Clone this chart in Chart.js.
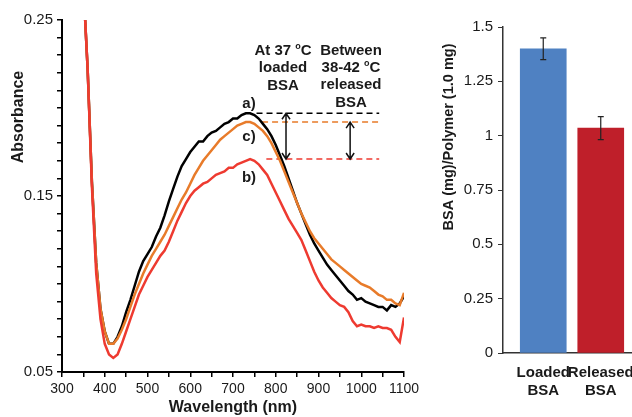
<!DOCTYPE html>
<html>
<head>
<meta charset="utf-8">
<script src="https://cdn.jsdelivr.net/npm/chart.js@4.4.1/dist/chart.umd.min.js"></script>
<style>
  html, body { margin: 0; padding: 0; background: #fff; }
  body { width: 632px; height: 417px; overflow: hidden; position: relative; }
  #leftBox { position: absolute; left: 0; top: 0; width: 430px; height: 417px; }
  #rightBox { position: absolute; left: 420px; top: 0; width: 290px; height: 417px; }
</style>
</head>
<body>
<div id="leftBox"><canvas id="spectra"></canvas></div>
<div id="rightBox"><canvas id="bars"></canvas></div>
<script>
// ---------- Data: UV-Vis spectra ----------
const wavelengths = [350,360,370,380,390,400,410,420,430,440,450,460,470,480,490,500,510,520,530,540,
  550,560,570,580,590,600,610,620,630,640,650,660,670,680,690,700,710,720,730,740,
  750,760,770,780,790,800,810,820,830,840,850,860,870,880,890,900,910,920,930,940,
  950,960,970,980,990,1000,1010,1020,1030,1040,1050,1060,1070,1080,1090,1100];

// a) loaded at 37 °C (black)
const seriesA = [0.270,0.222,0.158,0.112,0.086,0.073,0.066,0.066,0.070,0.076,0.084,0.091,0.099,0.107,0.113,0.117,0.121,0.127,0.132,0.139,
  0.147,0.154,0.161,0.167,0.171,0.175,0.178,0.181,0.181,0.184,0.186,0.187,0.189,0.191,0.192,0.194,0.194,0.196,0.197,0.197,
  0.196,0.194,0.191,0.188,0.184,0.179,0.173,0.167,0.160,0.153,0.146,0.140,0.134,0.128,0.123,0.119,0.115,0.111,0.108,0.105,
  0.102,0.099,0.096,0.094,0.091,0.092,0.090,0.089,0.088,0.087,0.087,0.085,0.088,0.087,0.089,0.093];
// c) (orange)
const seriesC = [0.270,0.222,0.158,0.112,0.086,0.073,0.066,0.066,0.069,0.074,0.080,0.087,0.094,0.100,0.106,0.111,0.116,0.120,0.124,0.128,
  0.133,0.138,0.143,0.148,0.152,0.157,0.162,0.166,0.170,0.173,0.176,0.179,0.182,0.184,0.186,0.188,0.190,0.191,0.192,0.192,
  0.191,0.189,0.187,0.184,0.180,0.175,0.170,0.164,0.158,0.152,0.146,0.140,0.135,0.130,0.126,0.123,0.120,0.117,0.114,0.112,
  0.110,0.108,0.106,0.104,0.102,0.100,0.099,0.098,0.096,0.094,0.093,0.091,0.091,0.089,0.088,0.095];
// b) (red)
const seriesB = [0.270,0.222,0.155,0.106,0.080,0.066,0.060,0.058,0.060,0.066,0.073,0.080,0.087,0.094,0.099,0.104,0.108,0.112,0.116,0.119,
  0.124,0.130,0.136,0.141,0.146,0.150,0.153,0.155,0.157,0.158,0.160,0.162,0.163,0.164,0.166,0.166,0.168,0.169,0.170,0.171,
  0.170,0.168,0.165,0.162,0.157,0.152,0.147,0.142,0.137,0.133,0.129,0.125,0.119,0.113,0.107,0.102,0.098,0.095,0.092,0.090,
  0.088,0.087,0.084,0.079,0.076,0.077,0.076,0.076,0.075,0.076,0.075,0.075,0.074,0.070,0.067,0.081];

const xTicks = [300,350,400,450,500,550,600,650,700,750,800,850,900,950,1000,1050,1100];
const xTickLabels = [300,400,500,600,700,800,900,1000,1100];
const yTicks = [0.05,0.06,0.07,0.08,0.09,0.10,0.11,0.12,0.13,0.14,0.15,0.16,0.17,0.18,0.19,0.20,0.21,0.22,0.23,0.24,0.25];
const yTickLabels = ['0.05','0.15','0.25'];

// visible absorption band (nm) used to find each peak
const bandStart = 500;
// dashed reference span (wavelengths) and arrow positions (wavelengths)
const dashStart = [755, 768, 778];
const dashEnd = 1042;
const arrowLoadedAt = 824;
const arrowReleasedAt = 974;

// ---------- Data: bar chart ----------
const barCategories = [['Loaded', 'BSA'], ['Released', 'BSA']];
const barValues = [1.40, 1.035];
const barErrors = [0.05, 0.053];
const barTicks = [0, 0.25, 0.5, 0.75, 1, 1.25, 1.5];
const barTickLabels = ['0', '0.25', '0.5', '0.75', '1', '1.25', '1.5'];

// ---------- Styling ----------
const FONT = 'Arial, "Liberation Sans", Helvetica, sans-serif';
Chart.defaults.font.family = FONT;
Chart.defaults.color = '#1a1a1a';
Chart.defaults.animation = false;

const colA = '#000000', colC = '#E87B2A', colB = '#EE3A30';
const peak = arr => Math.max(...arr.filter((v, i) => wavelengths[i] >= bandStart));
const levelA = peak(seriesA), levelC = peak(seriesC), levelB = peak(seriesB);

const pts = arr => wavelengths.map((w, i) => ({ x: w, y: arr[i] }));
const dashLine = (start, level) => [{ x: start, y: level }, { x: dashEnd, y: level }];

function drawSegs(ctx, segs, cx, cy) {
  const big = 'bold 15px ' + FONT, small = 'bold 9px ' + FONT;
  let total = 0;
  segs.forEach(s => { ctx.font = s[1] ? small : big; total += ctx.measureText(s[0]).width; });
  let x = cx - total / 2;
  ctx.textAlign = 'left';
  ctx.textBaseline = 'middle';
  segs.forEach(s => {
    ctx.font = s[1] ? small : big;
    ctx.fillText(s[0], x, s[1] ? cy - 4 : cy);
    x += ctx.measureText(s[0]).width;
  });
}

function dblArrow(ctx, x, y1, y2) {
  const h = 6, w = 4;
  ctx.save();
  ctx.strokeStyle = '#111';
  ctx.lineWidth = 1.5;
  ctx.beginPath();
  ctx.moveTo(x, y1); ctx.lineTo(x, y2);
  ctx.moveTo(x - w, y1 + h); ctx.lineTo(x, y1); ctx.lineTo(x + w, y1 + h);
  ctx.moveTo(x - w, y2 - h); ctx.lineTo(x, y2); ctx.lineTo(x + w, y2 - h);
  ctx.stroke();
  ctx.restore();
}

const spectraDecor = {
  id: 'spectraDecor',
  afterDatasetsDraw(chart) {
    const ctx = chart.ctx, xs = chart.scales.x, ys = chart.scales.y;
    dblArrow(ctx, xs.getPixelForValue(arrowLoadedAt), ys.getPixelForValue(levelA), ys.getPixelForValue(levelB));
    dblArrow(ctx, xs.getPixelForValue(arrowReleasedAt), ys.getPixelForValue(levelC), ys.getPixelForValue(levelB));
  },
  afterDraw(chart) {
    const ctx = chart.ctx;
    ctx.save();
    ctx.fillStyle = '#1a1a1a';
    drawSegs(ctx, [['At 37 ', 0], ['o', 1], ['C', 0]], 283, 51);
    drawSegs(ctx, [['loaded', 0]], 283, 68);
    drawSegs(ctx, [['BSA', 0]], 283, 86);
    drawSegs(ctx, [['Between', 0]], 351, 51);
    drawSegs(ctx, [['38-42 ', 0], ['o', 1], ['C', 0]], 351, 68);
    drawSegs(ctx, [['released', 0]], 351, 85);
    drawSegs(ctx, [['BSA', 0]], 351, 103);
    drawSegs(ctx, [['a)', 0]], 249, 104);
    drawSegs(ctx, [['c)', 0]], 249, 137);
    drawSegs(ctx, [['b)', 0]], 249, 178);
    ctx.translate(19, 117);
    ctx.rotate(-Math.PI / 2);
    ctx.font = 'bold 16px ' + FONT;
    ctx.textAlign = 'center';
    ctx.textBaseline = 'middle';
    ctx.fillText('Absorbance', 0, 0);
    ctx.restore();
  }
};

new Chart(document.getElementById('spectra'), {
  type: 'line',
  data: {
    datasets: [
      { data: pts(seriesB), borderColor: colB, borderWidth: 2.5, pointRadius: 0, tension: 0 },
      { data: pts(seriesC), borderColor: colC, borderWidth: 2.5, pointRadius: 0, tension: 0 },
      { data: pts(seriesA), borderColor: colA, borderWidth: 2.5, pointRadius: 0, tension: 0 },
      { data: dashLine(dashStart[0], levelA), borderColor: colA, borderWidth: 1.5, borderDash: [6, 4], pointRadius: 0 },
      { data: dashLine(dashStart[1], levelC), borderColor: colC, borderWidth: 1.5, borderDash: [6, 4], pointRadius: 0 },
      { data: dashLine(dashStart[2], levelB), borderColor: colB, borderWidth: 1.5, borderDash: [6, 4], pointRadius: 0 }
    ]
  },
  options: {
    responsive: true,
    maintainAspectRatio: false,
    layout: { padding: { top: 20, right: 26, left: 0, bottom: 0 } },
    plugins: { legend: { display: false }, tooltip: { enabled: false } },
    scales: {
      x: {
        type: 'linear', min: 300, max: 1100,
        afterBuildTicks: s => { s.ticks = xTicks.map(v => ({ value: v })); },
        afterFit: s => { s.height = 45; },
        ticks: {
          autoSkip: false, maxRotation: 0, padding: 4,
          font: { size: 14 }, color: '#1a1a1a',
          callback: v => (xTickLabels.includes(v) ? String(v) : '')
        },
        grid: { display: true, drawOnChartArea: false, drawTicks: true, tickLength: 5, color: '#000', lineWidth: 1.5 },
        border: { display: true, color: '#000', width: 2 },
        title: { display: true, text: 'Wavelength (nm)', font: { size: 16, weight: 'bold' }, color: '#1a1a1a', padding: { top: 0, bottom: 0 } }
      },
      y: {
        type: 'linear', min: 0.05, max: 0.25,
        afterBuildTicks: s => { s.ticks = yTicks.map(v => ({ value: v })); },
        afterFit: s => { s.width = 62; },
        ticks: {
          autoSkip: false, padding: 4,
          font: { size: 15 }, color: '#1a1a1a',
          callback: v => { const t = v.toFixed(2); return yTickLabels.includes(t) ? t : ''; }
        },
        grid: { display: true, drawOnChartArea: false, drawTicks: true, tickLength: 5, color: '#000', lineWidth: 1.5 },
        border: { display: true, color: '#000', width: 2 }
      }
    }
  },
  plugins: [spectraDecor]
});

// ---------- Bar chart ----------
const barDecor = {
  id: 'barDecor',
  afterDatasetsDraw(chart) {
    const ctx = chart.ctx, ys = chart.scales.y;
    const meta = chart.getDatasetMeta(0);
    ctx.save();
    ctx.strokeStyle = '#222';
    ctx.lineWidth = 1.2;
    meta.data.forEach((bar, i) => {
      const x = bar.x;
      const yt = ys.getPixelForValue(barValues[i] + barErrors[i]);
      const yb = ys.getPixelForValue(barValues[i] - barErrors[i]);
      ctx.beginPath();
      ctx.moveTo(x, yt); ctx.lineTo(x, yb);
      ctx.moveTo(x - 3, yt); ctx.lineTo(x + 3, yt);
      ctx.moveTo(x - 3, yb); ctx.lineTo(x + 3, yb);
      ctx.stroke();
    });
    ctx.restore();
  },
  afterDraw(chart) {
    const ctx = chart.ctx;
    ctx.save();
    ctx.fillStyle = '#1a1a1a';
    ctx.translate(449 - 420, 137);
    ctx.rotate(-Math.PI / 2);
    ctx.font = 'bold 14.5px ' + FONT;
    ctx.textAlign = 'center';
    ctx.textBaseline = 'middle';
    ctx.fillText('BSA (mg)/Polymer (1.0 mg)', 0, 0);
    ctx.restore();
  }
};

new Chart(document.getElementById('bars'), {
  type: 'bar',
  data: {
    datasets: [{
      data: barValues.map((v, i) => ({ x: i, y: v })),
      backgroundColor: ['#4F81C2', '#BF1F2A'],
      borderWidth: 0,
      barThickness: 46
    }]
  },
  options: {
    responsive: true,
    maintainAspectRatio: false,
    layout: { padding: { top: 27, right: 10, left: 0, bottom: 0 } },
    plugins: { legend: { display: false }, tooltip: { enabled: false } },
    scales: {
      x: {
        type: 'linear', min: -0.7, max: 2.726, offset: false,
        afterBuildTicks: s => { s.ticks = barCategories.map((c, i) => ({ value: i })); },
        afterFit: s => { s.height = 64; },
        ticks: {
          autoSkip: false, maxRotation: 0, padding: 11,
          font: { size: 15, weight: 'bold' }, color: '#1a1a1a',
          callback: (v) => barCategories[v] || ''
        },
        grid: { display: true, drawOnChartArea: false, drawTicks: false, offset: false },
        border: { display: true, color: '#333', width: 1.5 }
      },
      y: {
        type: 'linear', min: 0, max: 1.5,
        afterBuildTicks: s => { s.ticks = barTicks.map(v => ({ value: v })); },
        afterFit: s => { s.width = 83; },
        ticks: {
          autoSkip: false, padding: 5,
          font: { size: 15 }, color: '#1a1a1a',
          callback: (v) => barTickLabels[barTicks.indexOf(v)]
        },
        grid: { display: true, drawOnChartArea: false, drawTicks: true, tickLength: 5, color: '#333', lineWidth: 1 },
        border: { display: true, color: '#333', width: 1.5 }
      }
    }
  },
  plugins: [barDecor]
});
</script>
</body>
</html>
